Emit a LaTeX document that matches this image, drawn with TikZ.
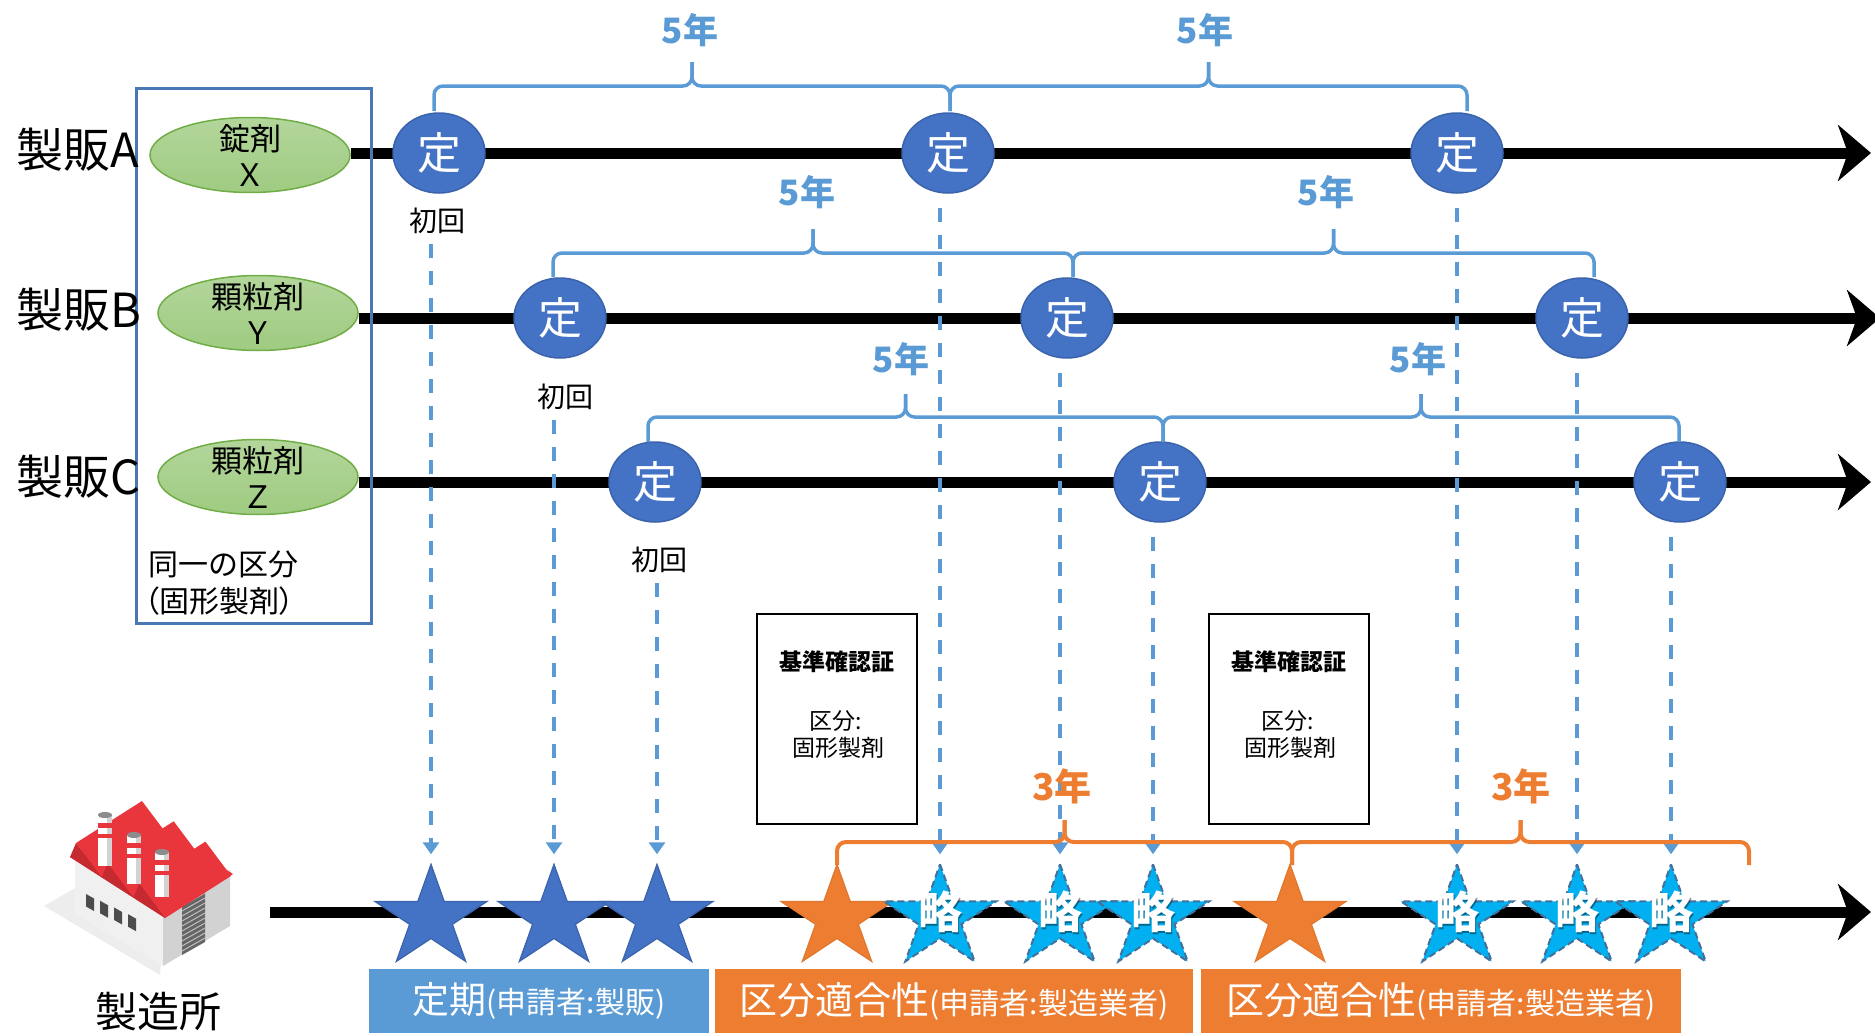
\documentclass[tikz,border=0pt]{standalone}
\usepackage{fontspec}
\setmainfont{Noto Sans CJK JP}
\newfontfamily\jppalt{Noto Sans CJK JP}[RawFeature=+palt]
\usetikzlibrary{arrows.meta,shapes.geometric,calc}
\pgfdeclarelayer{lines}
\pgfsetlayers{lines,main}

\newcommand\fsz[2]{\fontsize{#1pt}{#2pt}\selectfont}

\definecolor{cdark}{HTML}{4472C4}
\definecolor{cdarkedge}{HTML}{3A63AB}
\definecolor{cmid}{HTML}{5B9BD5}
\definecolor{corange}{HTML}{ED7D31}
\definecolor{corangeedge}{HTML}{E0772E}
\definecolor{ccyan}{HTML}{00B0F0}
\definecolor{ccyanedge}{HTML}{41719C}
\definecolor{cgreentop}{HTML}{B3D69B}
\definecolor{cgreenbot}{HTML}{9FCB81}
\definecolor{cgreenedge}{HTML}{70AD47}
\definecolor{cgrp}{HTML}{4A78B5}
\definecolor{froof}{HTML}{E8363C}
\definecolor{froofdark}{HTML}{C42A30}
\definecolor{fwall}{HTML}{F0F0F0}
\definecolor{fside}{HTML}{D2D2D2}

% brace with a centre tick: style, left x, right x, line y, end y, tick y
\newcommand\yrbrace[6]{%
  \pgfmathsetmacro\bxm{(#2+#3)/2}%
  \draw[#1] (#2,#5) -- (#2,#4) -- (\bxm,#4) -- (\bxm,#6);
  \draw[#1] (#3,#5) -- (#3,#4) -- (\bxm,#4) -- (\bxm,#6);
}

\tikzset{
  rowlab/.style={anchor=west, inner sep=0pt, font=\fsz{47}{50}},
  grpbox/.style={draw=cgrp, line width=2.5pt, inner sep=0pt, anchor=north west},
  grptxt/.style={anchor=west, inner sep=0pt, font=\fsz{30}{32}},
  prod/.style={ellipse, minimum width=200pt, minimum height=75pt, inner sep=0pt,
    draw=cgreenedge, line width=1.5pt, top color=cgreentop, bottom color=cgreenbot},
  prodtxt/.style={align=center, inner sep=0pt, font=\fsz{31}{36}},
  teiki/.style={ellipse, minimum width=92pt, minimum height=80pt, inner sep=0pt,
    fill=cdark, draw=cdarkedge, line width=1.5pt, text=white, font=\fsz{44}{48}},
  firstlab/.style={inner sep=0pt, font=\fsz{28}{30}},
  timeline/.style={line width=11pt, -{Stealth[length=33pt,width=56pt,inset=10pt]}},
  dasharr/.style={cmid, line width=3.5pt, dash pattern=on 14pt off 13pt,
    -{Triangle[length=12pt,width=16pt]}, shorten >=10pt},
  bluebrace/.style={cmid, line width=3.5pt, rounded corners=9pt},
  orgbrace/.style={corange, line width=4pt, rounded corners=9pt},
  yrlab/.style={inner sep=0pt, font=\fsz{35}{38}\bfseries},
  bstar/.style={fill=cdark, draw=cdarkedge, line width=1.2pt},
  ostar/.style={fill=corange, draw=corangeedge, line width=1.2pt},
  lstar/.style={fill=ccyan, draw=ccyanedge, line width=2pt, dash pattern=on 7pt off 4pt},
  ryaku/.style={inner sep=0pt, text=white, font=\fsz{44}{46}\bfseries},
  ryakush/.style={inner sep=0pt, text=black, opacity=0.4, font=\fsz{44}{46}\bfseries},
  kbox/.style={draw=black, line width=2.5pt, minimum width=160pt, minimum height=210pt, inner sep=0pt},
  ktitle/.style={inner sep=0pt, font=\fsz{23}{25}\bfseries},
  ktext/.style={inner sep=0pt, font=\fsz{23}{25}},
  bar/.style={minimum height=64pt, inner sep=0pt, text=white},
  pics/fivestar/.style={code={
    \begin{scope}[yscale=0.91]
      \path[#1] (270:59) -- (306:22.5) -- (342:59) -- (18:22.5) -- (54:59)
        -- (90:22.5) -- (126:59) -- (162:22.5) -- (198:59) -- (234:22.5) -- cycle;
      \coordinate (-top) at (270:59);
      \coordinate (-c) at (0,0);
    \end{scope}
  }},
}

\begin{document}
\begin{tikzpicture}[x=1pt,y=-1pt]
\useasboundingbox (0,0) rectangle (1875,1036);

% ---------- factory icon ----------
\fill[black!7] (44,906) -- (77,887) -- (163,937) -- (160,975) -- cycle;
\fill[fwall] (75,857) -- (163,909) -- (163,966) -- (75,914) -- cycle;
\fill[fside] (163,909) -- (230,870) -- (230,926) -- (163,966) -- cycle;
\fill[black!60] (182,902) -- (205,889) -- (205,942) -- (182,955) -- cycle;
\foreach \d in {4,9,...,49}
  \draw[black!25, line width=1pt] (182,{902+\d}) -- (205,{889+\d});
\foreach \x in {86,100,114,128}
  \fill[black!70] (\x,{894+0.48*(\x-86)}) -- ({\x+8},{898.5+0.48*(\x-86)})
    -- ({\x+8},{911+0.48*(\x-86)}) -- (\x,{906.5+0.48*(\x-86)}) -- cycle;
\fill[froof] (70,857) -- (165,918) -- (233,874) -- (138,813) -- cycle;
\foreach \k in {0,1,2} {
  \pgfmathsetmacro\ex{70+31.7*\k}
  \pgfmathsetmacro\ey{857+20.3*\k}
  \fill[froof] ({\ex+31.7},{\ey+20.3}) -- ({\ex+6},{\ey-14}) -- ({\ex+72},{\ey-56})
    -- ({\ex+97.7},{\ey-21.7}) -- cycle;
  \fill[froofdark] (\ex,\ey) -- ({\ex+6},{\ey-14}) -- ({\ex+31.7},{\ey+20.3}) -- cycle;
}
\foreach \cx/\ct/\cb in {105/815/866, 134/835/884, 162/852/897} {
  \fill[white] ({\cx-7},\ct) rectangle ({\cx+7},\cb);
  \fill[fside] ({\cx+2},\ct) rectangle ({\cx+7},\cb);
  \fill[froof] ({\cx-7},{\ct+8}) rectangle ({\cx+7},{\ct+13});
  \fill[froof] ({\cx-7},{\ct+19}) rectangle ({\cx+7},{\ct+23});
  \fill[black!45] (\cx,\ct) ellipse [x radius=7, y radius=3];
}
\node[inner sep=0pt, font=\fsz{42}{44}] (fac) at (158,1012) {製造所};

% ---------- manufacturers and products ----------
\node[grpbox, minimum width=235pt, minimum height=535pt] (grp) at (135,87) {};
\node[grptxt] (grpt1) at (148,564) {同一の区分};
\node[grptxt] (grpt2) at (144,601) {\jppalt （固形製剤）};

\node[rowlab] (labA) at (16,150) {製販A};
\node[rowlab] (labB) at (16,310) {製販B};
\node[rowlab] (labC) at (16,477) {製販C};

\node[prod] (eA) at (250,155) {};
\node[prodtxt] (tA) at (eA) {錠剤\\Ｘ};
\node[prod] (eB) at (258,313) {};
\node[prodtxt] (tB) at (eB) {顆粒剤\\Ｙ};
\node[prod] (eC) at (258,477) {};
\node[prodtxt] (tC) at (eC) {顆粒剤\\Ｚ};

\coordinate (tipA) at (1871,153);
\coordinate (tipB) at (1880,318);
\coordinate (tipC) at (1871,482);
\coordinate (fstart) at (270,912);
\coordinate (ftip) at (1871,912);

% periodic inspections
\node[teiki] (a1) at (439,153) {定};
\node[teiki] (a2) at (948,153) {定};
\node[teiki] (a3) at (1457,153) {定};
\node[teiki] (b1) at (560,318) {定};
\node[teiki] (b2) at (1067,318) {定};
\node[teiki] (b3) at (1582,318) {定};
\node[teiki] (c1) at (655,482) {定};
\node[teiki] (c2) at (1160,482) {定};
\node[teiki] (c3) at (1680,482) {定};

\node[firstlab] (fA) at (437,221) {初回};
\node[firstlab] (fB) at (565,397) {初回};
\node[firstlab] (fC) at (659,560) {初回};

% five-year braces
\yrbrace{bluebrace}{434}{950}{86}{111}{62}
\yrbrace{bluebrace}{950}{1467}{86}{111}{62}
\yrbrace{bluebrace}{553}{1073}{253}{277}{229}
\yrbrace{bluebrace}{1073}{1594}{253}{277}{229}
\yrbrace{bluebrace}{648}{1163}{417}{442}{394}
\yrbrace{bluebrace}{1163}{1679}{417}{442}{394}
\node[yrlab, text=cmid] (y1) at (690,30) {5年};
\node[yrlab, text=cmid] (y2) at (1205,30) {5年};
\node[yrlab, text=cmid] (y3) at (807,192) {5年};
\node[yrlab, text=cmid] (y4) at (1326,192) {5年};
\node[yrlab, text=cmid] (y5) at (901,359) {5年};
\node[yrlab, text=cmid] (y6) at (1418,359) {5年};

% certificates
\node[kbox] (k1) at (837,719) {};
\node[ktitle] (k1a) at (837,662) {基準確認証};
\node[ktext] (k1b) at (836,721) {区分:};
\node[ktext] (k1c) at (838,748) {固形製剤};
\node[kbox] (k2) at (1289,719) {};
\node[ktitle] (k2a) at (1289,662) {基準確認証};
\node[ktext] (k2b) at (1288,721) {区分:};
\node[ktext] (k2c) at (1290,748) {固形製剤};

% three-year braces
\yrbrace{orgbrace}{837}{1292}{842}{865}{820}
\yrbrace{orgbrace}{1292}{1749}{842}{865}{820}
\node[yrlab, text=corange, font=\fsz{37}{40}\bfseries] (y7) at (1062,786) {3年};
\node[yrlab, text=corange, font=\fsz{37}{40}\bfseries] (y8) at (1521,786) {3年};

% stars on the site time line
\pic (sA) at (431,918) {fivestar=bstar};
\pic (sB) at (554,918) {fivestar=bstar};
\pic (sC) at (657,918) {fivestar=bstar};
\pic (o1) at (837,918) {fivestar=ostar};
\pic (o2) at (1290,918) {fivestar=ostar};
\pic (r1) at (940,918) {fivestar=lstar};
\pic (r2) at (1060,918) {fivestar=lstar};
\pic (r3) at (1153,918) {fivestar=lstar};
\pic (r4) at (1457,918) {fivestar=lstar};
\pic (r5) at (1577,918) {fivestar=lstar};
\pic (r6) at (1671,918) {fivestar=lstar};
\foreach \r in {r1,r2,r3,r4,r5,r6} {
  \node[ryakush, xshift=1.5pt, yshift=4.5pt] (\r s) at (\r-c) {略};
  \node[ryaku, yshift=6pt] (\r t) at (\r-c) {略};
}

% bottom category bars
\node[bar, fill=cmid, minimum width=340pt] (bar1) at (539,1001)
  {{\fsz{37}{40}定期}{\fsz{30}{32}(申請者:製販)}};
\node[bar, fill=corange, minimum width=478pt] (bar2) at (954,1001)
  {{\fsz{38}{40}区分適合性}{\fsz{30}{32}(申請者:製造業者)}};
\node[bar, fill=corange, minimum width=480pt] (bar3) at (1441,1001)
  {{\fsz{38}{40}区分適合性}{\fsz{30}{32}(申請者:製造業者)}};

% ---------- time lines and dashed links ----------
\begin{pgfonlayer}{lines}
  \draw[timeline] (eA.east |- tipA) -- (tipA);
  \draw[timeline] (eB.east |- tipB) -- (tipB);
  \draw[timeline] (eC.east |- tipC) -- (tipC);
  \draw[timeline] (fstart) -- (ftip);
  \draw[dasharr, shorten <=10pt] (sA-top |- fA.south) -- (sA-top);
  \draw[dasharr, shorten <=10pt] (sB-top |- fB.south) -- (sB-top);
  \draw[dasharr, shorten <=10pt] (sC-top |- fC.south) -- (sC-top);
  \draw[dasharr, shorten <=14pt] (r1-top |- a2.south) -- (r1-top);
  \draw[dasharr, shorten <=14pt] (r2-top |- b2.south) -- (r2-top);
  \draw[dasharr, shorten <=14pt] (r3-top |- c2.south) -- (r3-top);
  \draw[dasharr, shorten <=14pt] (r4-top |- a3.south) -- (r4-top);
  \draw[dasharr, shorten <=14pt] (r5-top |- b3.south) -- (r5-top);
  \draw[dasharr, shorten <=14pt] (r6-top |- c3.south) -- (r6-top);
\end{pgfonlayer}
\end{tikzpicture}
\end{document}
